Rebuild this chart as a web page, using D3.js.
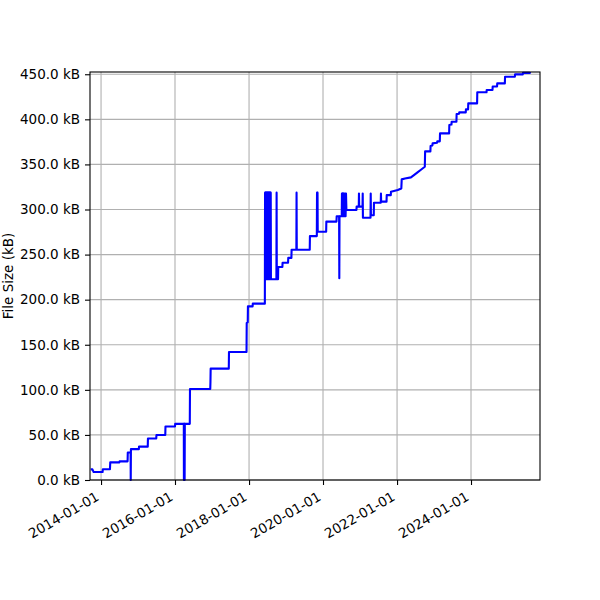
<!DOCTYPE html>
<html>
<head>
<meta charset="utf-8">
<script src="https://cdn.jsdelivr.net/npm/d3@7"></script>
<style>
    body { margin: 0; background: #fff; }
    svg text { font-family: "DejaVu Sans", sans-serif; }
</style>
</head>
<body>
<div id="chart"></div>
<script>
// file size history: [commit date, size in kB]
var sizeHistory = [
    ["2013-09-21", 11.8], ["2013-10-08", 11.8], ["2013-10-20", 8.8], ["2014-01-16", 8.8],
    ["2014-01-19", 12.0], ["2014-03-30", 12.0], ["2014-04-02", 19.6], ["2014-07-01", 19.6],
    ["2014-07-03", 20.7], ["2014-09-20", 20.7], ["2014-09-22", 30.5], ["2014-10-20", 30.5],
    ["2014-10-21", 0], ["2014-10-23", 34.2], ["2015-01-09", 34.2], ["2015-01-11", 37.0],
    ["2015-04-07", 37.0], ["2015-04-09", 46.1], ["2015-06-30", 46.1], ["2015-07-02", 49.9],
    ["2015-09-27", 49.9], ["2015-09-29", 59.3], ["2016-01-01", 59.3], ["2016-01-03", 62.3],
    ["2016-03-28", 62.3], ["2016-03-29", 0], ["2016-03-31", 62.3], ["2016-04-04", 62.3],
    ["2016-04-05", 0], ["2016-04-07", 62.3], ["2016-05-26", 62.3], ["2016-05-28", 101.0],
    ["2016-12-14", 101.0], ["2016-12-16", 108.6], ["2016-12-18", 123.5], ["2017-06-15", 123.5],
    ["2017-06-17", 142.0], ["2017-12-07", 142.0], ["2017-12-09", 174.0], ["2017-12-19", 175.0],
    ["2017-12-21", 192.6], ["2018-02-05", 192.6], ["2018-02-07", 195.6], ["2018-06-06", 195.6],
    ["2018-06-08", 318.7], ["2018-06-10", 222.7], ["2018-06-12", 318.7], ["2018-06-14", 222.7],
    ["2018-06-16", 318.7], ["2018-06-18", 222.7], ["2018-06-20", 318.7], ["2018-06-22", 222.7],
    ["2018-06-24", 318.7], ["2018-06-26", 222.7], ["2018-06-28", 318.7], ["2018-06-30", 222.7],
    ["2018-07-02", 318.7], ["2018-07-04", 222.7], ["2018-07-06", 318.7], ["2018-07-08", 222.7],
    ["2018-07-10", 318.7], ["2018-07-12", 222.7], ["2018-07-14", 318.7], ["2018-07-16", 222.7],
    ["2018-07-18", 318.7], ["2018-07-20", 222.7], ["2018-07-22", 318.7], ["2018-07-24", 222.7],
    ["2018-07-26", 318.7], ["2018-07-28", 222.7], ["2018-07-30", 318.7], ["2018-08-01", 222.7],
    ["2018-08-03", 318.7], ["2018-08-05", 222.7], ["2018-09-28", 222.7], ["2018-09-30", 318.7],
    ["2018-10-02", 222.7], ["2018-10-14", 222.7], ["2018-10-16", 236.3], ["2018-11-26", 236.3],
    ["2018-11-28", 241.0], ["2019-01-21", 241.0], ["2019-01-23", 246.3], ["2019-02-23", 246.3],
    ["2019-02-25", 255.4], ["2019-04-13", 255.4], ["2019-04-15", 318.7], ["2019-04-17", 255.4],
    ["2019-08-23", 255.4], ["2019-08-25", 270.5], ["2019-11-01", 270.5], ["2019-11-03", 318.7],
    ["2019-11-05", 275.4], ["2019-11-08", 318.7], ["2019-11-10", 275.4], ["2020-02-01", 275.4],
    ["2020-02-03", 286.6], ["2020-05-13", 286.6], ["2020-05-15", 292.6], ["2020-06-08", 292.6],
    ["2020-06-10", 223.7], ["2020-06-12", 292.6], ["2020-07-04", 292.6], ["2020-07-06", 317.7],
    ["2020-07-08", 292.6], ["2020-07-10", 317.7], ["2020-07-12", 292.6], ["2020-07-14", 317.7],
    ["2020-07-16", 292.6], ["2020-07-18", 317.7], ["2020-07-20", 292.6], ["2020-07-22", 317.7],
    ["2020-07-25", 294.6], ["2020-07-29", 317.7], ["2020-08-03", 292.6], ["2020-08-07", 317.7],
    ["2020-08-11", 292.6], ["2020-08-15", 317.7], ["2020-08-19", 299.4], ["2020-11-26", 299.4],
    ["2020-11-28", 303.2], ["2020-12-19", 303.2], ["2020-12-21", 317.7], ["2020-12-23", 303.2],
    ["2021-01-25", 303.2], ["2021-01-27", 317.7], ["2021-01-29", 290.9], ["2021-04-14", 290.9],
    ["2021-04-16", 317.7], ["2021-04-18", 293.6], ["2021-05-16", 293.6], ["2021-05-18", 307.5],
    ["2021-07-24", 307.5], ["2021-07-26", 317.7], ["2021-07-28", 308.7], ["2021-09-19", 308.7],
    ["2021-09-21", 316.0], ["2021-10-31", 316.0], ["2021-11-02", 319.7], ["2022-01-08", 321.6],
    ["2022-02-12", 323.3], ["2022-02-16", 333.4], ["2022-03-20", 334.3], ["2022-05-18", 335.6],
    ["2022-06-20", 338.4], ["2022-07-25", 341.4], ["2022-08-28", 344.4], ["2022-10-02", 347.4],
    ["2022-10-05", 364.5], ["2022-11-26", 364.5], ["2022-11-28", 370.4], ["2022-12-16", 371.0],
    ["2022-12-18", 373.3], ["2023-01-31", 374.0], ["2023-02-02", 375.6], ["2023-02-27", 375.6],
    ["2023-03-01", 384.4], ["2023-05-30", 384.4], ["2023-06-01", 393.7], ["2023-06-22", 394.2],
    ["2023-06-24", 397.4], ["2023-08-10", 397.4], ["2023-08-12", 405.8], ["2023-09-05", 406.2],
    ["2023-09-07", 407.7], ["2023-11-10", 407.7], ["2023-11-12", 411.0], ["2023-12-03", 411.0],
    ["2023-12-05", 417.7], ["2024-03-01", 417.7], ["2024-03-03", 430.0], ["2024-06-02", 430.0],
    ["2024-06-04", 432.6], ["2024-07-31", 432.6], ["2024-08-02", 436.4], ["2024-09-14", 436.4],
    ["2024-09-16", 439.9], ["2024-11-30", 439.9], ["2024-12-02", 447.2], ["2025-03-09", 447.2],
    ["2025-03-11", 449.9], ["2025-05-26", 449.9], ["2025-05-28", 451.5], ["2025-08-04", 451.5],
    ["2025-08-06", 452.5]
];
var xDomain = ["2013-09-14", "2025-11-12"];
var yDomain = [0, 452.5];
var xTickDates = ["2014-01-01", "2016-01-01", "2018-01-01", "2020-01-01", "2022-01-01", "2024-01-01"];
var yTicks = [0, 50, 100, 150, 200, 250, 300, 350, 400, 450];
var yLabel = "File Size (kB)";

var W = 600, H = 600,
    m = { top: 72, right: 60, bottom: 120, left: 90 },
    iw = W - m.left - m.right,
    ih = H - m.top - m.bottom;
var parse = d3.timeParse("%Y-%m-%d");

var svg = d3.select("#chart")
    .append("svg")
    .attr("width", W)
    .attr("height", H);
var g = svg.append("g")
    .attr("transform", "translate(" + m.left + "," + m.top + ")");

var x = d3.scaleTime()
    .domain(xDomain.map(parse))
    .range([0, iw]);
var y = d3.scaleLinear()
    .domain(yDomain)
    .range([ih, 0]);

// grid
g.append("g")
    .selectAll("line")
    .data(xTickDates.map(parse))
    .enter()
    .append("line")
    .attr("x1", function(d) { return x(d); })
    .attr("x2", function(d) { return x(d); })
    .attr("y1", 0)
    .attr("y2", ih)
    .attr("stroke", "#b0b0b0")
    .attr("stroke-width", 1.1);
g.append("g")
    .selectAll("line")
    .data(yTicks)
    .enter()
    .append("line")
    .attr("x1", 0)
    .attr("x2", iw)
    .attr("y1", function(d) { return y(d); })
    .attr("y2", function(d) { return y(d); })
    .attr("stroke", "#b0b0b0")
    .attr("stroke-width", 1.1);

var line = d3.line()
    .x(function(d) { return x(parse(d[0])); })
    .y(function(d) { return y(d[1]); });

g.append("path")
    .datum(sizeHistory)
    .attr("d", line)
    .attr("fill", "none")
    .attr("stroke", "#0000ff")
    .attr("stroke-width", 2.1)
    .attr("stroke-linejoin", "round");

// axes
var xAxis = g.append("g")
    .attr("transform", "translate(0," + ih + ")")
    .call(d3.axisBottom(x)
        .tickValues(xTickDates.map(parse))
        .tickSize(5)
        .tickPadding(4)
        .tickFormat(d3.timeFormat("%Y-%m-%d")));
xAxis.selectAll("text")
    .style("font-size", "13.5px")
    .attr("fill", "#000")
    .attr("text-anchor", "end")
    .attr("dy", 0)
    .attr("transform", "translate(-1.5,19.5) rotate(-30)")
    .attr("y", 0)
    .attr("x", 0);

var yAxis = g.append("g")
    .call(d3.axisLeft(y)
        .tickValues(yTicks)
        .tickSize(5)
        .tickPadding(5)
        .tickFormat(function(d) { return d.toFixed(1) + " kB"; }));
yAxis.selectAll("text")
    .style("font-size", "13.5px")
    .attr("fill", "#000");

svg.selectAll(".domain").remove();
svg.selectAll(".tick line").attr("stroke", "#000").attr("stroke-width", 1.1);

g.append("rect")
    .attr("width", iw)
    .attr("height", ih)
    .attr("fill", "none")
    .attr("stroke", "#000")
    .attr("stroke-width", 1.1);

svg.append("text")
    .attr("transform", "translate(13," + (m.top + ih / 2) + ") rotate(-90)")
    .attr("text-anchor", "middle")
    .style("font-size", "13.5px")
    .text(yLabel);
</script>
</body>
</html>
